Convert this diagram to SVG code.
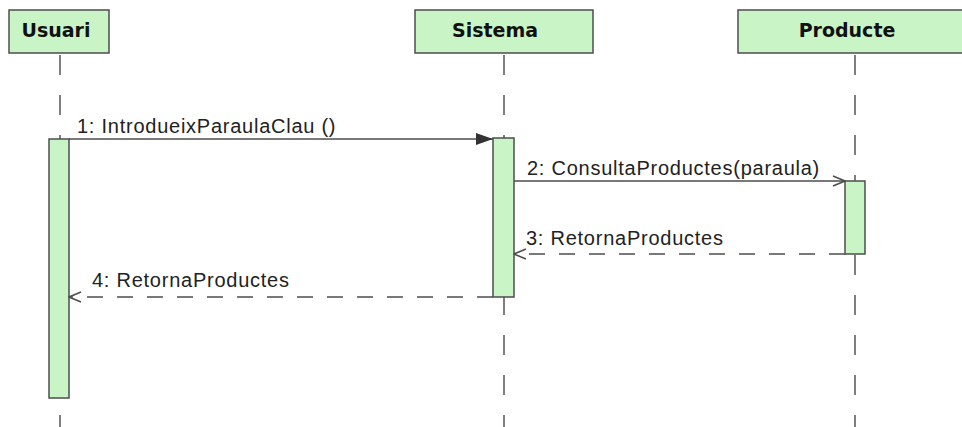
<svg xmlns="http://www.w3.org/2000/svg" width="962" height="427" viewBox="0 0 962 427">
<style>
.box{fill:#c9f5c6;stroke:#4d4d4d;stroke-width:1.5}
.title{font-family:"DejaVu Sans",Verdana,sans-serif;font-weight:bold;font-size:19px;fill:#111}
.life{stroke:#555;stroke-width:1.5;stroke-dasharray:20 20;fill:none}
.act{fill:#c9f5c6;stroke:#4d4d4d;stroke-width:1.5}
.msg{stroke:#4d4d4d;stroke-width:1.5;fill:none}
.ret{stroke:#4d4d4d;stroke-width:1.5;fill:none;stroke-dasharray:16 14}
.lbl{font-family:"Liberation Sans",Arial,sans-serif;font-size:20px;letter-spacing:0.75px;fill:#222}
</style>
<defs>
<marker id="filled" markerWidth="18" markerHeight="14" refX="17" refY="7" orient="auto" markerUnits="userSpaceOnUse">
<path d="M0,1 L17,7 L0,13 Z" fill="#333"/>
</marker>
<marker id="open" markerWidth="14" markerHeight="12" refX="13" refY="6" orient="auto" markerUnits="userSpaceOnUse">
<path d="M1,1 L13,6 L1,11" fill="none" stroke="#4d4d4d" stroke-width="1.5"/>
</marker>
</defs>
<rect width="962" height="427" fill="#ffffff"/>
<g id="lifelines">
<line class="life" x1="60" y1="55" x2="60" y2="427"/>
<line class="life" x1="504" y1="55" x2="504" y2="427"/>
<line class="life" x1="855" y1="55" x2="855" y2="427"/>
</g>
<g id="usuari">
<rect class="box" x="9" y="10" width="100" height="43"/>
<text class="title" x="56" y="37" text-anchor="middle">Usuari</text>
<rect class="act" x="49" y="139" width="20" height="259"/>
</g>
<g id="sistema">
<rect class="box" x="415" y="10" width="178" height="43"/>
<text class="title" x="495" y="37" text-anchor="middle">Sistema</text>
<rect class="act" x="493" y="138" width="21" height="159"/>
</g>
<g id="producte">
<rect class="box" x="738" y="10" width="240" height="43"/>
<text class="title" x="847" y="37" text-anchor="middle">Producte</text>
<rect class="act" x="845" y="181" width="20" height="73"/>
</g>
<g id="connectors">
<line class="msg" x1="69" y1="139" x2="493" y2="139" marker-end="url(#filled)"/>
<text class="lbl" x="77" y="133">1: IntrodueixParaulaClau ()</text>
<line class="msg" x1="514" y1="181" x2="845" y2="181" marker-end="url(#open)"/>
<text class="lbl" x="527" y="175">2: ConsultaProductes(paraula)</text>
<line class="ret" x1="845" y1="254" x2="514" y2="254" marker-end="url(#open)"/>
<text class="lbl" x="526" y="245">3: RetornaProductes</text>
<line class="ret" x1="493" y1="297" x2="69" y2="297" marker-end="url(#open)"/>
<text class="lbl" x="92" y="287">4: RetornaProductes</text>
</g>
</svg>
